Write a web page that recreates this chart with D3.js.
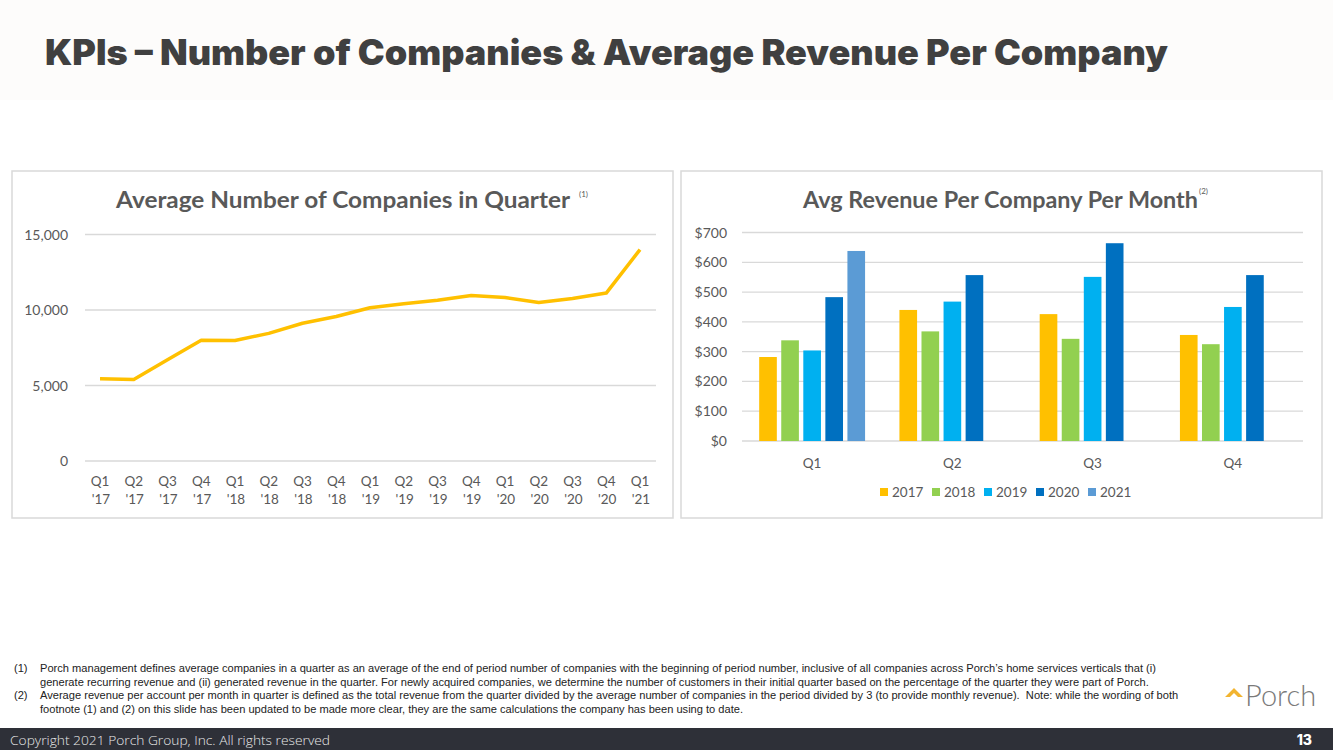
<!DOCTYPE html>
<html><head><meta charset="utf-8">
<script src="https://cdn.jsdelivr.net/npm/d3@7"></script>
<style>html,body{margin:0;padding:0;background:#fff;}svg{display:block;}</style>
</head><body>
<svg id="chart" width="1333" height="750"></svg>
<script>
// ---- data ----
const quarterLabels = ["Q1 '17","Q2 '17","Q3 '17","Q4 '17","Q1 '18","Q2 '18","Q3 '18","Q4 '18","Q1 '19","Q2 '19","Q3 '19","Q4 '19","Q1 '20","Q2 '20","Q3 '20","Q4 '20","Q1 '21"];
const companies = [5450, 5400, 6700, 8000, 7980, 8450, 9120, 9570, 10150, 10420, 10640, 10960, 10830, 10500, 10760, 11120, 14000];
const companyTicks = [0, 5000, 10000, 15000];

const revQuarters = ["Q1","Q2","Q3","Q4"];
const revYears = ["2017","2018","2019","2020","2021"];
const rev2017 = [282, 440, 426, 356];
const rev2018 = [338, 368, 343, 325];
const rev2019 = [304, 468, 551, 450];
const rev2020 = [483, 557, 664, 557];
const rev2021 = [638, null, null, null];
const revTicks = [0, 100, 200, 300, 400, 500, 600, 700];
const yearColors = ["#FFC000", "#92D050", "#00B0F0", "#0070C0", "#5B9BD5"];

const footnotes = [
  {mark:"(1)", text:"Porch management defines average companies in a quarter as an average of the end of period number of companies with the beginning of period number, inclusive of all companies across Porch\u2019s home services verticals that (i)"},
  {mark:"", text:"generate recurring revenue and (ii) generated revenue in the quarter. For newly acquired companies, we determine the number of customers in their initial quarter based on the percentage of the quarter they were part of Porch."},
  {mark:"(2)", text:"Average revenue per account per month in quarter is defined as the total revenue from the quarter divided by the average number of companies in the period divided by 3 (to provide monthly revenue).  Note: while the wording of both"},
  {mark:"", text:"footnote (1) and (2) on this slide has been updated to be made more clear, they are the same calculations the company has been using to date."}
];

const svg = d3.select("#chart");
const chartFont = "Lato, 'Open Sans', sans-serif";
const grey = "#595959";

// header background
svg.append("rect").attr("x",0).attr("y",0).attr("width",1333).attr("height",100).attr("fill","#fdfcfb");
svg.append("text").attr("x",45).attr("y",65)
  .attr("font-family","Inter, 'Open Sans', sans-serif").attr("font-weight",900).attr("font-size",35)
  .attr("fill","#404040").attr("textLength",1123).attr("lengthAdjust","spacingAndGlyphs")
  .text("KPIs \u2013 Number of Companies & Average Revenue Per Company");

// panels
svg.append("rect").attr("x",12).attr("y",171).attr("width",661).attr("height",347).attr("fill","#fff").attr("stroke","#d9d9d9").attr("stroke-width",1.5);
svg.append("rect").attr("x",681).attr("y",171).attr("width",641).attr("height",347).attr("fill","#fff").attr("stroke","#d9d9d9").attr("stroke-width",1.5);

// ---- left line chart ----
const xL = d3.scalePoint().domain(quarterLabels).range([100, 640]);
const yL = d3.scaleLinear().domain([0, 15000]).range([461, 234.5]);

svg.append("text").attr("x",116).attr("y",208).attr("font-family",chartFont).attr("font-weight",700)
  .attr("font-size",22).attr("fill",grey).attr("textLength",454).attr("lengthAdjust","spacingAndGlyphs")
  .text("Average Number of Companies in Quarter");
svg.append("text").attr("x",579).attr("y",197).attr("font-family",chartFont).attr("font-size",8).attr("fill",grey).text("(1)");

const gL = svg.append("g");
gL.selectAll("line.grid").data(companyTicks).join("line")
  .attr("x1",85).attr("x2",656).attr("y1",d=>yL(d)).attr("y2",d=>yL(d))
  .attr("stroke","#d9d9d9").attr("stroke-width",1.3);
gL.selectAll("text.ytick").data(companyTicks).join("text")
  .attr("x",68).attr("y",d=>yL(d)+5).attr("text-anchor","end")
  .attr("font-family",chartFont).attr("font-size",14).attr("fill",grey)
  .text(d=>d3.format(",")(d));
const xlab = gL.selectAll("text.xtick").data(quarterLabels).join("text")
  .attr("text-anchor","middle").attr("font-family",chartFont).attr("font-size",13.5).attr("fill",grey);
xlab.append("tspan").attr("x",d=>xL(d)).attr("y",486).text(d=>d.split(" ")[0]);
xlab.append("tspan").attr("x",d=>xL(d)+1).attr("y",504).text(d=>d.split(" ")[1]);

gL.append("path").datum(companies)
  .attr("d", d3.line().x((d,i)=>xL(quarterLabels[i])).y(d=>yL(d)))
  .attr("fill","none").attr("stroke","#FFC000").attr("stroke-width",3.5).attr("stroke-linejoin","round");

// ---- right bar chart ----
const x0 = d3.scaleBand().domain(revQuarters).range([742, 1303]).paddingInner(0.245).paddingOuter(0.1225);
const x1 = d3.scaleBand().domain(revYears).range([0, x0.bandwidth()]).paddingInner(0.2).paddingOuter(0);
const yR = d3.scaleLinear().domain([0, 700]).range([441, 232.5]);
const revSeries = [rev2017, rev2018, rev2019, rev2020, rev2021];

svg.append("text").attr("x",803).attr("y",208).attr("font-family",chartFont).attr("font-weight",700)
  .attr("font-size",22).attr("fill",grey).attr("textLength",395).attr("lengthAdjust","spacingAndGlyphs")
  .text("Avg Revenue Per Company Per Month");
svg.append("text").attr("x",1199).attr("y",194).attr("font-family",chartFont).attr("font-size",8).attr("fill",grey).text("(2)");

const gR = svg.append("g");
gR.selectAll("line.grid").data(revTicks).join("line")
  .attr("x1",742).attr("x2",1303).attr("y1",d=>yR(d)).attr("y2",d=>yR(d))
  .attr("stroke","#d9d9d9").attr("stroke-width",1.3);
gR.selectAll("text.ytick").data(revTicks).join("text")
  .attr("x",727).attr("y",d=>yR(d)+5).attr("text-anchor","end")
  .attr("font-family",chartFont).attr("font-size",14).attr("fill",grey)
  .text(d=>"$"+d);
gR.selectAll("text.xtick").data(revQuarters).join("text")
  .attr("x",d=>x0(d)+x0.bandwidth()/2).attr("y",468).attr("text-anchor","middle")
  .attr("font-family",chartFont).attr("font-size",13.5).attr("fill",grey).text(d=>d);

const barData = [];
revSeries.forEach((arr, si) => arr.forEach((v, qi) => { if (v != null) barData.push({q: revQuarters[qi], y: revYears[si], v, c: yearColors[si]}); }));
gR.selectAll("rect.bar").data(barData).join("rect")
  .attr("x", d=>x0(d.q)+x1(d.y)).attr("width", x1.bandwidth())
  .attr("y", d=>yR(d.v)).attr("height", d=>yR(0)-yR(d.v)).attr("fill", d=>d.c);

// legend
const lg = gR.selectAll("g.leg").data(revYears).join("g").attr("transform",(d,i)=>`translate(${880+i*52},488)`);
lg.append("rect").attr("x",0).attr("y",0).attr("width",8).attr("height",8).attr("fill",(d,i)=>yearColors[i]);
lg.append("text").attr("x",12).attr("y",9).attr("font-family",chartFont).attr("font-size",13.5).attr("fill",grey).text(d=>d);

// footnotes
const fn = svg.append("g").attr("font-family","'Liberation Sans', Arial, sans-serif").attr("font-size",11.1).attr("fill","#222").style("white-space","pre");
footnotes.forEach((f,i)=>{
  const y = 672 + i*13.7;
  if (f.mark) fn.append("text").attr("x",14).attr("y",y).text(f.mark);
  fn.append("text").attr("x",40).attr("y",y).attr("xml:space","preserve").text(f.text);
});

// logo
svg.append("path").attr("d","M1225,697 L1234,688 L1243,697 L1238,697 L1234,693 L1230,697 Z").attr("fill","#F2B430");
svg.append("text").attr("x",1245).attr("y",706).attr("font-family","Lato, 'Open Sans', sans-serif").attr("font-weight",300)
  .attr("font-size",29).attr("fill","#7a7a7a").text("Porch");

// footer
svg.append("rect").attr("x",0).attr("y",728).attr("width",1333).attr("height",22).attr("fill","#2e3038");
svg.append("text").attr("x",10).attr("y",745).attr("font-family","'Open Sans', sans-serif").attr("font-weight",300)
  .attr("font-size",13.5).attr("fill","#e8e8e8").attr("textLength",320).attr("lengthAdjust","spacingAndGlyphs")
  .text("Copyright 2021 Porch Group, Inc. All rights reserved");
svg.append("text").attr("x",1312).attr("y",745).attr("text-anchor","end").attr("font-family","Inter, sans-serif").attr("font-weight",800)
  .attr("font-size",14).attr("fill","#ffffff").text("13");
</script>
</body></html>
